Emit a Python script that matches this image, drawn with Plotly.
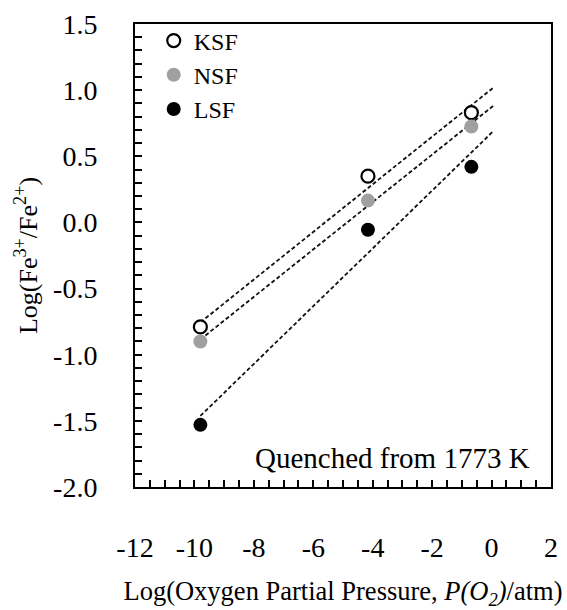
import numpy as np
import plotly.graph_objects as go

# Data
log_po2 = [-9.8, -4.16, -0.68]
ksf = [-0.79, 0.35, 0.83]
nsf = [-0.90, 0.165, 0.725]
lsf = [-1.53, -0.055, 0.42]
series_names = ["KSF", "NSF", "LSF"]
fit_range = [-9.8, 0.05]

x_tick_vals = [-12, -10, -8, -6, -4, -2, 0, 2]
x_tick_text = ["-12", "-10", "-8", "-6", "-4", "-2", "0", "2"]
y_tick_vals = [-2.0, -1.5, -1.0, -0.5, 0.0, 0.5, 1.0, 1.5]
y_tick_text = ["-2.0", "-1.5", "-1.0", "-0.5", "0.0", "0.5", "1.0", "1.5"]

FONT = "Liberation Serif"

fig = go.Figure()

# regression (dashed) lines
for ys in [ksf, nsf, lsf]:
    slope, icpt = np.polyfit(log_po2, ys, 1)
    fx = np.array(fit_range)
    fig.add_trace(go.Scatter(
        x=fx, y=slope * fx + icpt, mode="lines",
        line=dict(color="#111111", width=1.8, dash="4px,2.5px"),
        showlegend=False, hoverinfo="skip"))

styles = [
    dict(color="white", size=13, line=dict(color="black", width=2.2)),
    dict(color="#a0a0a0", size=14, line=dict(width=0)),
    dict(color="black", size=14, line=dict(width=0)),
]
for name, ys, st in zip(series_names, [ksf, nsf, lsf], styles):
    fig.add_trace(go.Scatter(x=log_po2, y=ys, mode="markers", name=name,
                             marker=dict(symbol="circle", **st)))

fig.add_annotation(text="Quenched from 1773 K", xref="paper", yref="paper",
                   x=0.955, y=0.062, xanchor="right", yanchor="middle",
                   showarrow=False, font=dict(family=FONT, size=29, color="black"))

axis_common = dict(
    showline=True, linecolor="black", linewidth=2, mirror=True,
    showgrid=False, zeroline=False,
    ticks="inside", ticklen=7, tickwidth=1.5, tickcolor="black",
    tickfont=dict(family=FONT, size=28, color="black"),
)

fig.update_xaxes(
    range=[-12, 2], tickmode="array", tickvals=x_tick_vals, ticktext=x_tick_text,
    minor=dict(ticks="inside", ticklen=7, tickwidth=1.5, tickcolor="black", dtick=0.5, tick0=-12, showgrid=False),
    ticklabelstandoff=34,
    title=dict(text="Log(Oxygen Partial Pressure, <i>P(O<sub>2</sub>)</i>/atm)",
               font=dict(family=FONT, size=26.5, color="black"), standoff=20),
    **axis_common)
fig.update_yaxes(
    range=[-2, 1.5], tickmode="array", tickvals=y_tick_vals, ticktext=y_tick_text,
    minor=dict(ticks="inside", ticklen=7, tickwidth=1.5, tickcolor="black", dtick=0.1, tick0=-2, showgrid=False),
    ticklabelstandoff=30,
    title=dict(text="Log(Fe<sup>3+</sup>/Fe<sup>2+</sup>)",
               font=dict(family=FONT, size=26, color="black"), standoff=8),
    **axis_common)

fig.update_layout(
    width=567, height=610,
    margin=dict(l=135, r=9, t=18, b=112),
    paper_bgcolor="white", plot_bgcolor="white",
    font=dict(family=FONT, color="black"),
    legend=dict(x=0.045, y=1.012, xanchor="left", yanchor="top",
                font=dict(family=FONT, size=24, color="black"),
                bgcolor="rgba(0,0,0,0)", itemwidth=30, tracegroupgap=0),
    showlegend=True,
)

fig.write_html("out.html")
